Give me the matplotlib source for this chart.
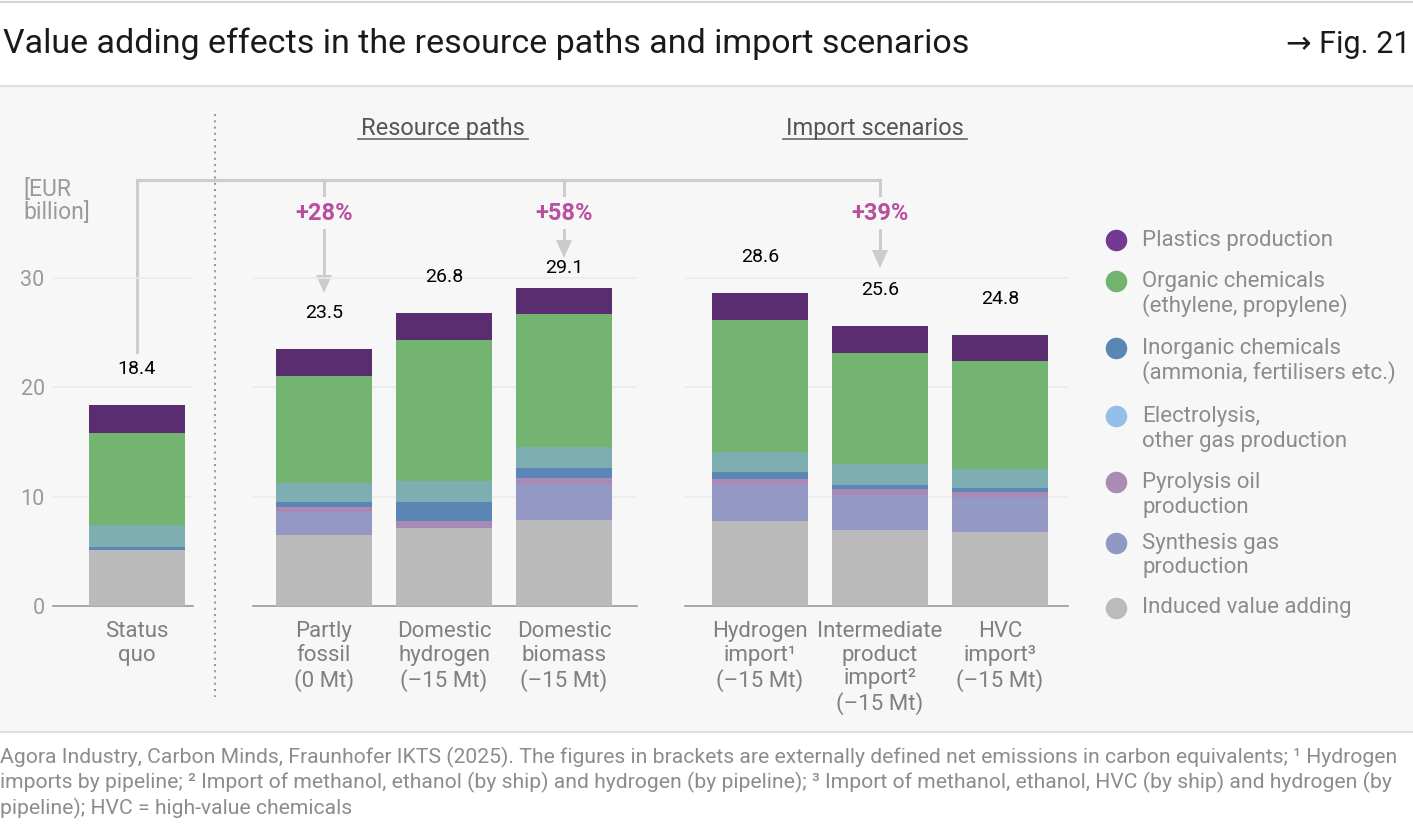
import matplotlib
matplotlib.use('Agg')
import matplotlib.pyplot as plt
from matplotlib.patches import Rectangle, Polygon

plt.rcParams['font.family'] = ['Roboto', 'DejaVu Sans']

# categories per panel
status_cats = ['Status\nquo']
resource_cats = ['Partly\nfossil\n(0 Mt)', 'Domestic\nhydrogen\n(–15 Mt)', 'Domestic\nbiomass\n(–15 Mt)']
import_cats = ['Hydrogen\nimport¹\n(–15 Mt)', 'Intermediate\nproduct\nimport²\n(–15 Mt)', 'HVC\nimport³\n(–15 Mt)']

# segment values [EUR billion], order: status quo, 3 resource paths, 3 import scenarios
induced = [5.14, 6.46, 7.17, 7.84, 7.75, 6.93, 6.72]
synthesis = [0.0, 2.13, 0.0, 3.35, 3.28, 3.19, 3.22]
pyrolysis = [0.0, 0.47, 0.58, 0.48, 0.55, 0.55, 0.49]
inorganic = [0.25, 0.44, 1.76, 0.97, 0.67, 0.36, 0.33]
electrolysis = [2.01, 1.75, 1.95, 1.92, 1.79, 1.92, 1.76]
organic = [8.37, 9.82, 12.89, 12.10, 12.10, 10.21, 9.85]
plastics = [2.63, 2.43, 2.45, 2.43, 2.46, 2.43, 2.40]
totals = [18.4, 23.5, 26.8, 29.1, 28.6, 25.6, 24.8]

# change vs status quo, and which bar it points at
changes = ['+28%', '+58%', '+39%']
change_bars = [1, 3, 5]

legend_labels = ['Plastics production', 'Organic chemicals\n(ethylene, propylene)',
                 'Inorganic chemicals\n(ammonia, fertilisers etc.)', 'Electrolysis,\nother gas production',
                 'Pyrolysis oil\nproduction', 'Synthesis gas\nproduction', 'Induced value adding']

footer_lines = [
    'Agora Industry, Carbon Minds, Fraunhofer IKTS (2025). The figures in brackets are externally defined net emissions in carbon equivalents; ¹ Hydrogen',
    'imports by pipeline; ² Import of methanol, ethanol (by ship) and hydrogen (by pipeline); ³ Import of methanol, ethanol, HVC (by ship) and hydrogen (by',
    'pipeline); HVC = high-value chemicals',
]

# bottom -> top stacking
series = [induced, synthesis, pyrolysis, inorganic, electrolysis, organic, plastics]
bar_colors = ['#bababa', '#9399c4', '#a98ab5', '#5b87b6', '#7eaeb2', '#73b471', '#5a2d71']
legend_colors = ['#723a90', '#72b46f', '#5a86b6', '#94bfe9', '#a98bb5', '#9298c4', '#bbbbbb']

W, H = 1413, 834
fig = plt.figure(figsize=(W / 100, H / 100), dpi=100)
fig.patch.set_facecolor('white')

# overlay in pixel coords (y downwards) for background and decorations
ov = fig.add_axes([0, 0, 1, 1])
ov.set_xlim(0, W)
ov.set_ylim(H, 0)
ov.axis('off')
ov.add_patch(Rectangle((0, 86), W, 646, facecolor='#f7f7f7', edgecolor='none'))
ov.plot([0, W], [2, 2], color='#d4d4d4', lw=1.5)
ov.plot([0, W], [86, 86], color='#dedede', lw=1.5)
ov.plot([0, W], [732, 732], color='#dedede', lw=1.5)

# title
ov.text(3, 44, 'Value adding effects in the resource paths and import scenarios',
        fontsize=24.5, color='#1a1a1a', va='center', ha='left')
ov.text(1410, 44, '→ Fig. 21', fontsize=22, color='#1a1a1a', va='center', ha='right')

# footer
for k, line in enumerate(footer_lines):
    ov.text(0, 757 + 25.5 * k, line, fontsize=15.2, color='#8c8c8c', va='center', ha='left')

# bar panels
y_bottom, y_top_px = 606, 245
ymax = 33
panels = [
    (status_cats, [0], 53, 193, 0.696),
    (resource_cats, [1, 2, 3], 253, 637, 0.592),
    (import_cats, [4, 5, 6], 685, 1068, 0.625),
]
bar_px = {}
for cats, idx, x0, x1, lead in panels:
    ax = fig.add_axes([x0 / W, (H - y_bottom) / H, (x1 - x0) / W, (y_bottom - y_top_px) / H])
    ax.set_facecolor('none')
    width_units = (x1 - x0) / 120
    ax.set_xlim(-lead, width_units - lead)
    ax.set_ylim(0, ymax)
    xs = list(range(len(idx)))
    bottom = [0.0] * len(idx)
    for vals, c in zip(series, bar_colors):
        v = [vals[i] for i in idx]
        ax.bar(xs, v, width=0.8, bottom=bottom, color=c, edgecolor='none', zorder=3)
        bottom = [b + a for b, a in zip(bottom, v)]
    for k, i in enumerate(idx):
        off = 20 if i == 3 else 36
        ax.annotate(f'{totals[i]:.1f}', (xs[k], totals[i]), xytext=(0, off), textcoords='offset pixels',
                    ha='center', va='center', fontsize=14, color='black')
        bar_px[i] = ax.transData.transform((xs[k], totals[i]))
    ax.set_yticks([0, 10, 20, 30])
    ax.grid(axis='y', color='#ebebeb', lw=1.2, zorder=0)
    for s in ['left', 'right', 'top']:
        ax.spines[s].set_visible(False)
    ax.spines['bottom'].set_color('#9a9a9a')
    ax.spines['bottom'].set_linewidth(1.2)
    ax.set_xticks(xs)
    ax.set_xticklabels(cats, fontsize=16, color='#808080', linespacing=1.16, va='top')
    ax.tick_params(axis='x', length=0, pad=11)
    ax.tick_params(axis='y', length=0, pad=6, labelsize=15.5, labelcolor='#9a9a9a')
    if x0 != 53:
        ax.tick_params(axis='y', labelleft=False)

ov.text(23, 201, '[EUR\nbillion]', fontsize=16.5, color='#9a9a9a', va='center', ha='left', linespacing=1.05)

# dotted divider
ov.plot([215, 215], [114, 697], color='#9a9a9a', lw=1.5, ls=(0, (1, 2)))

# section headings
for label, xc, hw in [('Resource paths', 443, 85), ('Import scenarios', 875, 92)]:
    ov.text(xc, 128, label, fontsize=17, color='#555555', ha='center', va='center')
    ov.plot([xc - hw, xc + hw], [139, 139], color='#666666', lw=1.2)

# bracket connecting status quo to the scenarios
line_c = '#cccccc'
sq_x = bar_px[0][0]
ov.plot([sq_x, bar_px[5][0]], [180, 180], color=line_c, lw=2.2, solid_capstyle='butt')
ov.plot([sq_x, sq_x], [180, 352], color=line_c, lw=2.2)
arrow_tips = [293, 258, 268]
for lab, bi, tip in zip(changes, change_bars, arrow_tips):
    x = bar_px[bi][0]
    ov.plot([x, x], [180, tip - 16], color=line_c, lw=2.2, zorder=2)
    ov.add_patch(Polygon([[x - 8, tip - 18], [x + 8, tip - 18], [x, tip]], closed=True,
                         facecolor=line_c, edgecolor='none', zorder=2))
    ov.text(x, 213, lab, fontsize=17, fontweight='bold', color='#b84f9f', ha='center', va='center',
            zorder=3, bbox=dict(facecolor='#f7f7f7', edgecolor='none', pad=3))

# legend
leg_y = [240, 281, 348, 416, 482, 543, 608]
for lab, c, y in zip(legend_labels, legend_colors, leg_y):
    ov.plot([1116], [y], marker='o', ms=15.5, color=c, mec='none')
    ov.text(1142, y, lab.split('\n')[0], fontsize=16, color='#8c8c8c', va='center', ha='left')
    if '\n' in lab:
        ov.text(1142, y + 25, lab.split('\n')[1], fontsize=16, color='#8c8c8c', va='center', ha='left')

fig.savefig('out.png', dpi=100, facecolor='white')
